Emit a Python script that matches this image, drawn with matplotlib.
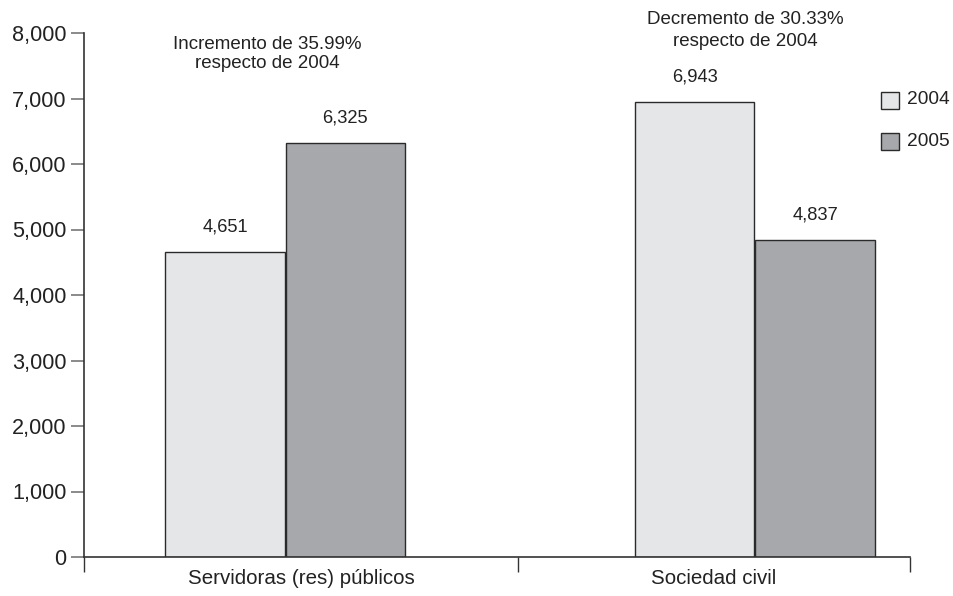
import matplotlib
matplotlib.use("Agg")
import matplotlib.pyplot as plt
from matplotlib.patches import Rectangle

plt.rcParams['font.family'] = ['Liberation Sans', 'DejaVu Sans']

categories = ["Servidoras (res) públicos", "Sociedad civil"]
years = ["2004", "2005"]
values_2004 = [4651, 6943]
values_2005 = [6325, 4837]
value_labels_2004 = ["4,651", "6,943"]
value_labels_2005 = ["6,325", "4,837"]
notes = ["Incremento de 35.99%\nrespecto de 2004", "Decremento de 30.33%\nrespecto de 2004"]
yticks = [0, 1000, 2000, 3000, 4000, 5000, 6000, 7000, 8000]
ytick_labels = ["0", "1,000", "2,000", "3,000", "4,000", "5,000", "6,000", "7,000", "8,000"]

c2004 = "#e5e6e8"
c2005 = "#a7a8ab"
edge = "#2a2a2a"

fig = plt.figure(figsize=(9.54, 5.96), dpi=100)
ax = fig.add_axes([84/954, 1-557/596, (910-84)/954, (557-33)/596])

x = [0, 1]
w = 0.254
off = 0.128
ax.bar([xi - off for xi in x], values_2004, width=w, color=c2004, edgecolor=edge, linewidth=1.0, label=years[0])
ax.bar([xi + off for xi in x], values_2005, width=w, color=c2005, edgecolor=edge, linewidth=1.0, label=years[1])

for i in range(2):
    ax.text(x[i] - off, values_2004[i] + 380, value_labels_2004[i], ha="center", va="center", fontsize=13.2, color="#222")
    ax.text(x[i] + off, values_2005[i] + 380, value_labels_2005[i], ha="center", va="center", fontsize=13.2, color="#222")

ax.text(-0.038, 7680, notes[0], ha="center", va="center", fontsize=13.5, color="#222", linespacing=1.2, clip_on=False)
ax.text(0.979, 8040, notes[1], ha="center", va="center", fontsize=13.5, color="#222", linespacing=1.35, clip_on=False)

ax.set_xlim(-0.428, 1.330)
ax.set_ylim(0, 8000)
ax.set_yticks(yticks)
ax.set_yticklabels(ytick_labels, fontsize=15.6, color="#222")
ax.tick_params(axis="y", direction="out", length=9.5, width=1.2, color="#777", pad=3)

ax.set_xticks([-0.428, 0.496, 1.330], minor=True)
ax.set_xticks([0.034, 0.913])
ax.set_xticklabels(categories, fontsize=14.8, color="#222")
ax.tick_params(axis="x", which="major", length=0, pad=9)
ax.tick_params(axis="x", which="minor", length=11, width=1.0, color="#333", direction="out")

for s in ["top", "right"]:
    ax.spines[s].set_visible(False)
ax.spines["left"].set_linewidth(1.2)
ax.spines["left"].set_color("#333")
ax.spines["bottom"].set_linewidth(1.2)
ax.spines["bottom"].set_color("#333")

# legend
lx = 881/954
for j, (yy, col, lab) in enumerate([(1-100/596, c2004, years[0]), (1-141/596, c2005, years[1])]):
    fig.patches.append(Rectangle((lx, yy - 8.5/596), 18/954, 17/596, transform=fig.transFigure,
                                 facecolor=col, edgecolor=edge, linewidth=1.0))
    fig.text(907/954, yy, lab, ha="left", va="center", fontsize=13.8, color="#222")

fig.savefig("out.png", dpi=100)
